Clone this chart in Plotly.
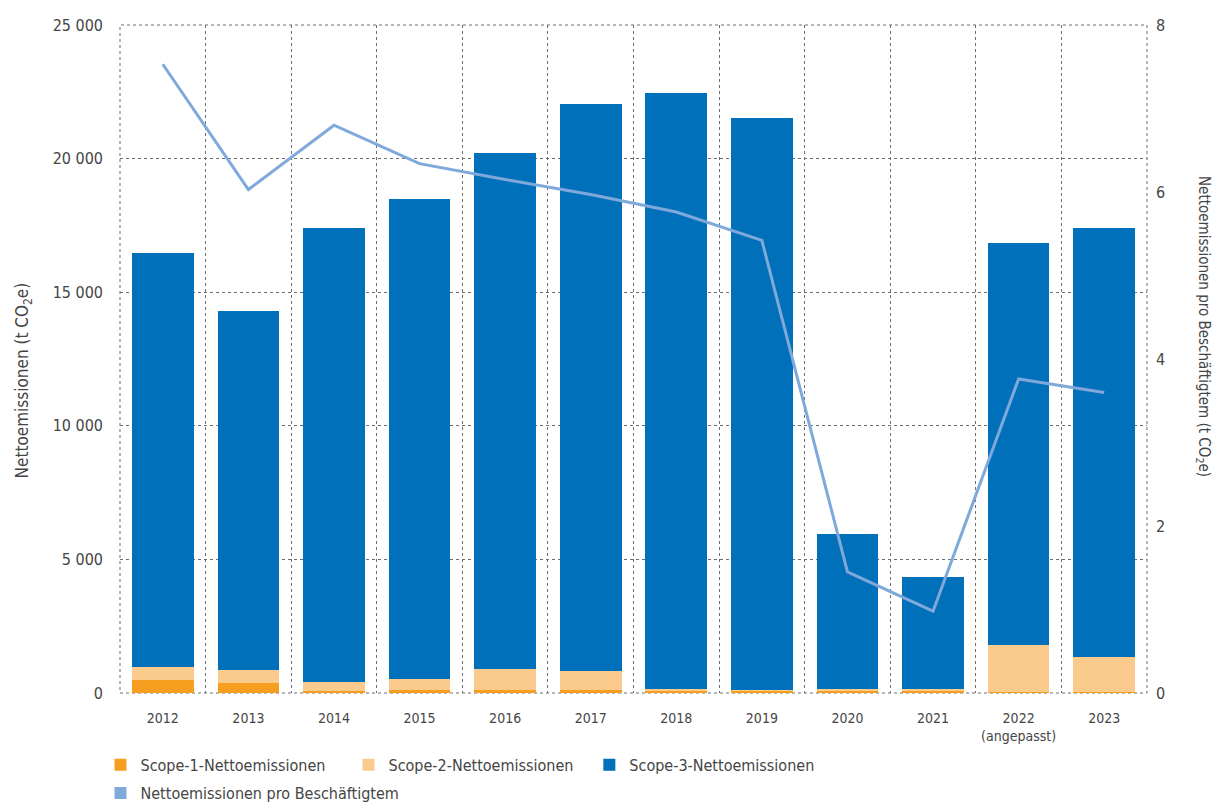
import plotly.graph_objects as go

# Reporting years (2022 restated)
years = ["2012", "2013", "2014", "2015", "2016", "2017", "2018", "2019",
         "2020", "2021", "2022<br>(angepasst)", "2023"]

# Net emissions by scope, t CO2e
scope1 = [500, 380, 90, 100, 120, 120, 100, 90, 70, 70, 20, 30]
scope2 = [490, 490, 320, 430, 780, 700, 60, 20, 90, 90, 1760, 1310]
scope3 = [15460, 13410, 16980, 17950, 19300, 21220, 22290, 21400, 5800, 4190, 15050, 16050]

# Net emissions per employee, t CO2e
per_employee = [7.53, 6.03, 6.80, 6.34, 6.15, 5.97, 5.76, 5.42, 1.45, 0.98, 3.76, 3.60]

left_ticks = [0, 5000, 10000, 15000, 20000, 25000]
left_labels = ["0", "5 000", "10 000", "15 000", "20 000", "25 000"]
right_ticks = [0, 2, 4, 6, 8]

FONT = "DejaVu Sans Condensed, Liberation Sans Narrow, sans-serif"
TEXT = "#454545"
GRID = "#6e6e6e"

C1 = "#F59E1F"
C2 = "#FBCB8D"
C3 = "#0070BA"
CL = "#7FA8DB"

fig = go.Figure()
fig.add_trace(go.Bar(x=years, y=scope1, name="Scope-1-Nettoemissionen",
                     marker=dict(color=C1, line=dict(width=0)), legend="legend"))
fig.add_trace(go.Bar(x=years, y=scope2, name="Scope-2-Nettoemissionen",
                     marker=dict(color=C2, line=dict(width=0)), legend="legend2"))
fig.add_trace(go.Bar(x=years, y=scope3, name="Scope-3-Nettoemissionen",
                     marker=dict(color=C3, line=dict(width=0)), legend="legend3"))
fig.add_trace(go.Scatter(x=years, y=per_employee, yaxis="y2", mode="lines",
                         line=dict(color=CL, width=3), showlegend=False,
                         name="Nettoemissionen pro Beschäftigtem"))
# legend entry (second row) shown as a filled square
fig.add_trace(go.Bar(x=[years[0]], y=[None], name="Nettoemissionen pro Beschäftigtem",
                     marker=dict(color=CL, line=dict(width=0)), legend="legend4"))

legend_common = dict(orientation="h", xanchor="left", yanchor="top",
                     font=dict(size=16, color=TEXT), itemwidth=30,
                     bgcolor="rgba(0,0,0,0)", yref="container")
row1, row2 = 0.072, 0.037

fig.update_layout(
    width=1219, height=806,
    margin=dict(l=120, r=72, t=25, b=113, autoexpand=False),
    barmode="stack",
    bargap=0.28,
    plot_bgcolor="white",
    paper_bgcolor="white",
    font=dict(family=FONT, color=TEXT, size=16),
    showlegend=True,
    legend=dict(x=-0.019, y=row1, **legend_common),
    legend2=dict(x=0.2225, y=row1, **legend_common),
    legend3=dict(x=0.457, y=row1, **legend_common),
    legend4=dict(x=-0.019, y=row2, **legend_common),
    xaxis=dict(
        type="category", tickson="boundaries", tickangle=0, automargin=False,
        showgrid=True, gridcolor=GRID, griddash="dot", gridwidth=1,
        ticks="", showline=False, zeroline=False,
        tickfont=dict(size=14, color=TEXT), ticklabelstandoff=15,
    ),
    yaxis=dict(
        range=[0, 25000], tickvals=left_ticks, ticktext=left_labels, automargin=False,
        showgrid=True, gridcolor=GRID, griddash="dot", gridwidth=1,
        zeroline=False, showline=False, ticks="",
        tickfont=dict(size=16, color=TEXT), ticklabelstandoff=16,
    ),
    yaxis2=dict(
        overlaying="y", side="right", range=[0, 8], tickvals=right_ticks, automargin=False,
        showgrid=False, zeroline=False, showline=False, ticks="",
        tickfont=dict(size=16, color=TEXT), ticklabelstandoff=8,
    ),
)

# dotted frame round the plot area
fig.add_shape(type="rect", xref="paper", yref="paper", x0=0, x1=1, y0=0, y1=1,
              line=dict(color=GRID, width=1, dash="dot"), layer="below")

fig.add_annotation(text="Nettoemissionen (t CO<sub>2</sub>e)", xref="paper", yref="paper",
                   x=-0.094, y=0.5, textangle=-90, showarrow=False,
                   font=dict(size=17, color=TEXT), xanchor="center", yanchor="middle",
                   yshift=-21)
fig.add_annotation(text="Nettoemissionen pro Beschäftigtem (t CO<sub>2</sub>e)", xref="paper",
                   yref="paper", x=1.0555, y=0.5, textangle=90, showarrow=False,
                   font=dict(size=15, color=TEXT), xanchor="center", yanchor="middle",
                   yshift=32)

fig.write_html("out.html")
